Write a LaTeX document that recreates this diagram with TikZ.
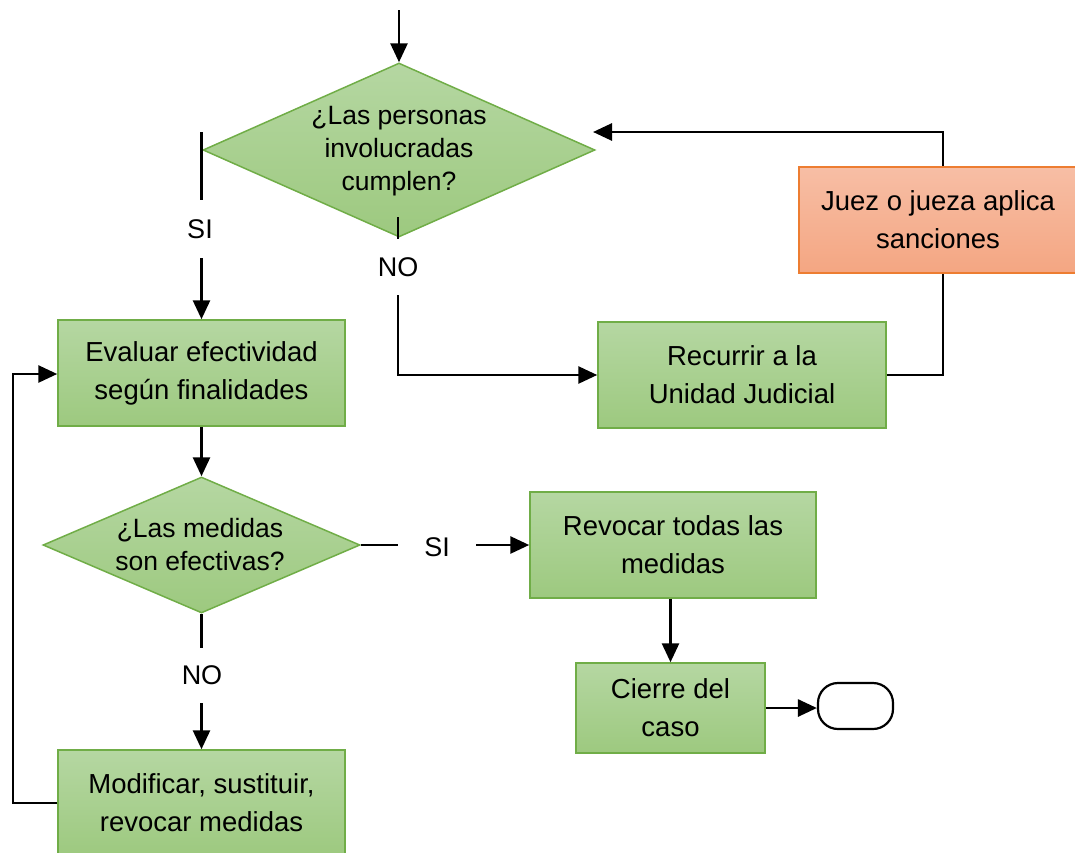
\documentclass[tikz,border=0pt]{standalone}
\usepackage{fontspec}
\setmainfont{Liberation Sans}
\usetikzlibrary{arrows.meta,shapes.geometric,calc}
\definecolor{gtop}{RGB}{181,215,162}
\definecolor{gbot}{RGB}{157,201,127}
\definecolor{gline}{RGB}{112,173,71}
\definecolor{otop}{RGB}{247,190,165}
\definecolor{obot}{RGB}{244,166,130}
\definecolor{oline}{RGB}{237,125,49}
\tikzset{
  boxg/.style={rectangle, draw=gline, line width=1.5pt, top color=gtop, bottom color=gbot,
    inner sep=0pt, align=center, font=\fontsize{27.5}{38}\selectfont},
  boxo/.style={rectangle, draw=oline, line width=1.5pt, top color=otop, bottom color=obot,
    inner sep=0pt, align=center, font=\fontsize{27.5}{38}\selectfont},
  diag/.style={diamond, draw=gline, line width=1.5pt, top color=gtop, bottom color=gbot,
    inner sep=0pt, aspect=2.25},
  dtext/.style={align=center, inner sep=0pt, font=\fontsize{26.5}{33}\selectfont},
  lbl/.style={fill=white, inner sep=0pt, font=\fontsize{27}{30}\selectfont},
  arr/.style={line width=2.8pt, -{Triangle[length=19pt,width=17pt]}},
  term/.style={rectangle, rounded corners=20pt, draw=black, line width=2.2pt, fill=white},
}
\begin{document}
\begin{tikzpicture}[x=1pt,y=-1pt]
\useasboundingbox (0,0) rectangle (1075,852);

% decision shapes and boxes
\node[diag, minimum width=392, minimum height=174] (d1) at (399,150) {};
\node[dtext] (d1t) at (399,151) {¿Las personas\\involucradas\\cumplen?};
\node[boxg, minimum width=287, minimum height=106] (ev) at (201.5,373) {Evaluar efectividad\\según finalidades};
\node[boxg, minimum width=288, minimum height=106] (rec) at (742,375) {Recurrir a la\\Unidad Judicial};
\node[diag, minimum width=317, minimum height=136, aspect=2.33] (d2) at (201.5,545) {};
\node[dtext] (d2t) at (200,545) {¿Las medidas\\son efectivas?};
\node[boxg, minimum width=286, minimum height=106] (rev) at (673,545) {Revocar todas las\\medidas};
\node[boxg, minimum width=189, minimum height=90] (ci) at (670.5,708) {Cierre del\\caso};
\node[term, minimum width=75, minimum height=46] (tm) at (855.5,706) {};
\node[boxg, minimum width=287, minimum height=106] (mod) at (201.5,803) {Modificar, sustituir,\\revocar medidas};

% connectors
\coordinate (start) at (399,10);
\draw[arr] (start) -- (d1.north);

\coordinate (s1) at (201.5,132);
\draw[arr] (s1) -- (ev.north);

\coordinate (n1) at (398,217);
\draw[arr] (n1) -- (n1 |- rec.west) -- (rec.west);

\coordinate (c1) at (943,132);
\coordinate (e1) at (593,132);
\draw[arr] (rec.east) -| (c1) -- (e1);

\node[boxo, minimum width=278, minimum height=106] (jz) at (938,220) {Juez o jueza aplica\\sanciones};

\draw[arr] (ev.south) -- (d2.north);
\draw[arr] (d2.east) -- (rev.west);
\draw[arr] (d2.south) -- (mod.north);
\draw[arr] (ci.north |- rev.south) -- (ci.north);
\draw[arr] (ci.east) -- (ci.east -| tm.west);
\coordinate (l1) at (13,374);
\draw[arr] (mod.west) -| (l1) -- (l1 -| ev.west);

% labels
\node[lbl, minimum width=40, minimum height=58] (si1) at (200,229) {SI};
\node[lbl, minimum width=40, minimum height=56] (no1) at (398,267) {NO};
\node[lbl, minimum width=78, minimum height=40] (si2) at (437,547) {SI};
\node[lbl, minimum width=44, minimum height=55] (no2) at (202,675) {NO};
\end{tikzpicture}
\end{document}
